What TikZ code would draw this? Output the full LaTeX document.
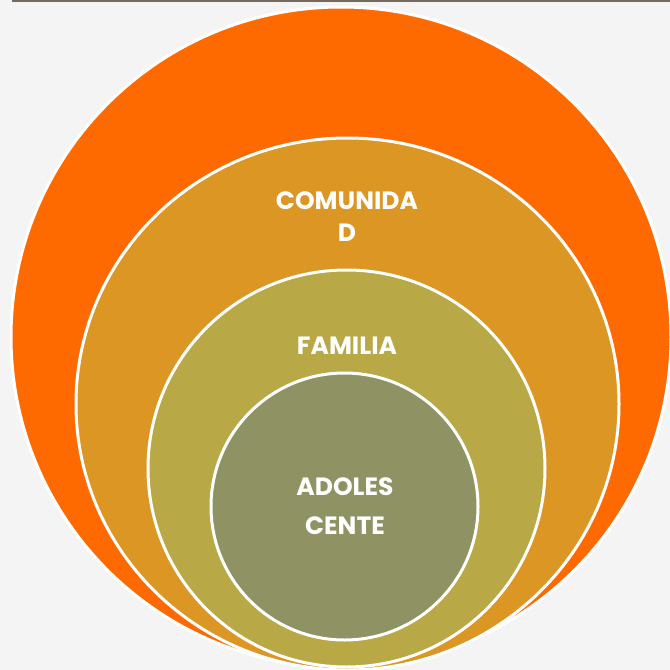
\documentclass[tikz,border=0pt]{standalone}
\usepackage{fontspec}
\setmainfont{Poppins}
\usetikzlibrary{positioning,shapes.geometric}
\definecolor{bgcol}{HTML}{F4F4F4}
\definecolor{rulecol}{HTML}{756A5C}
\definecolor{commcol}{HTML}{FF6A00}
\definecolor{societycol}{HTML}{DC9624}
\definecolor{familycol}{HTML}{B8A846}
\definecolor{teencol}{HTML}{8F9364}
\begin{document}
\begin{tikzpicture}[x=1pt, y=-1pt,
				ring/.style={circle, draw=white, line width=3pt, inner sep=0pt},
				ovalring/.style={ellipse, draw=white, line width=3pt, inner sep=0pt},
				ringlabel/.style={text=white, align=center, font=\bfseries\fontsize{25}{32}\selectfont}
			]
			\useasboundingbox (0,0) rectangle (670,670);
			\fill[bgcol] (0,0) rectangle (670,670);
			\clip (0,0) rectangle (670,670);
			\coordinate (rulestart) at (12,1);
			\coordinate (ruleend) at (670,1);
			\draw[rulecol, line width=2.5pt] (rulestart) -- (ruleend);
			% rings, from outside in
			\node[ring, fill=commcol, minimum size=660pt] (outer) at (341,337) {};
			\node[ovalring, fill=societycol, minimum width=543pt, minimum height=532pt] (comunidad) at (347.5,404) {};
			\node[ring, fill=familycol, minimum size=397pt] (familia) at (346.5,468.5) {};
			\node[ring, fill=teencol, minimum size=267pt] (adolescente) at (344.5,506.5) {};
			% labels
			\node[ringlabel] (comunidadlabel) at (347,217) {COMUNIDA\\D};
			\node[ringlabel] (familialabel) at (347,346) {FAMILIA};
			\node[ringlabel, font=\bfseries\fontsize{25}{39}\selectfont] (adolescentelabel) at (345,506) {ADOLES\\CENTE};
			\end{tikzpicture}
\end{document}
